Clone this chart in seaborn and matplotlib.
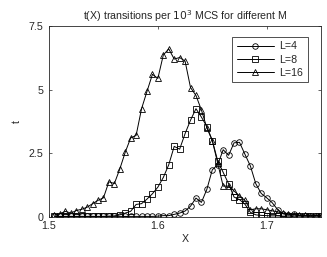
import numpy as np
import pandas as pd
import matplotlib
matplotlib.use('Agg')
import matplotlib.pyplot as plt
import seaborn as sns

# X grid (step 0.005)
x_vals = [round(1.505 + 0.005 * i, 3) for i in range(50)]

t_L4 = [0.02, 0.02, 0.02, 0.02, 0.02, 0.02, 0.02, 0.02, 0.02, 0.02,
        0.02, 0.02, 0.02, 0.02, 0.02, 0.02, 0.02, 0.02, 0.02, 0.03,
        0.05, 0.05, 0.10, 0.15, 0.23, 0.42, 0.74, 0.57, 1.08, 1.85,
        2.05, 2.64, 2.42, 2.91, 2.93, 2.46, 2.00, 1.30, 0.92, 0.75,
        0.56, 0.29, 0.12, 0.07, 0.10, 0.05, 0.04, 0.03, 0.05, 0.05]

t_L8 = [0.02, 0.02, 0.02, 0.02, 0.02, 0.02, 0.02, 0.02, 0.02, 0.02,
        0.03, 0.04, 0.08, 0.15, 0.22, 0.49, 0.52, 0.70, 0.91, 1.17,
        1.55, 2.05, 2.77, 2.66, 3.27, 3.80, 4.25, 3.92, 3.55, 3.00,
        2.20, 1.75, 1.30, 0.78, 0.68, 0.50, 0.18, 0.08, 0.06, 0.05,
        0.04, 0.04, 0.03, 0.03, 0.03, 0.03, 0.03, 0.03, 0.03, 0.03]

t_L16 = [0.07, 0.12, 0.22, 0.15, 0.25, 0.30, 0.38, 0.52, 0.65, 0.75,
         1.38, 1.31, 1.88, 2.54, 3.10, 3.20, 4.25, 4.93, 5.60, 5.44,
         6.36, 6.60, 6.20, 6.26, 6.12, 5.08, 4.77, 4.20, 3.50, 3.00,
         2.10, 1.21, 1.21, 1.02, 0.82, 0.65, 0.28, 0.32, 0.32, 0.28,
         0.24, 0.20, 0.15, 0.10, 0.08, 0.07, 0.06, 0.05, 0.05, 0.05]

labels = ['L=4', 'L=8', 'L=16']
markers = ['o', 's', '^']

sns.set_style('ticks')
plt.rcParams['font.family'] = ['Liberation Sans', 'DejaVu Sans']

fig = plt.figure(figsize=(3.27, 2.57), dpi=100)
ax = fig.add_axes([0.150, 0.156, 0.832, 0.743])

for series, lab, mk in zip([t_L4, t_L8, t_L16], labels, markers):
    df = pd.DataFrame({'X': x_vals, 't': series})
    sns.lineplot(data=df, x='X', y='t', ax=ax, color='k', lw=0.7,
                 marker=mk, markersize=4, mfc='none', mec='k', mew=0.6,
                 label=lab)

ax.set_xlim(1.5, 1.75)
ax.set_ylim(0, 7.5)
ax.set_xticks([1.5, 1.6, 1.7])
ax.set_xticklabels(['1.5', '1.6', '1.7'])
ax.set_yticks([0, 2.5, 5, 7.5])
ax.set_yticklabels(['0', '2.5', '5', '7.5'])
ax.tick_params(direction='in', length=2.5, width=0.5, labelsize=7.7,
               top=True, right=True)
ax.tick_params(axis='x', pad=3)
ax.tick_params(axis='y', pad=4)
for s in ax.spines.values():
    s.set_linewidth(0.6)
ax.set_xlabel('X', fontsize=7.7, labelpad=2)
ax.set_ylabel('t', fontsize=7.7, labelpad=5)
ax.set_title('t(X) transitions per $10^3$ MCS for different M', fontsize=7.7, pad=4)

leg = ax.legend(loc='upper right', fontsize=7.7, frameon=True, fancybox=False,
                edgecolor='k', handlelength=3.5, borderpad=0.4,
                labelspacing=0.3, handletextpad=0.5,
                bbox_to_anchor=(0.97, 0.97))
leg.get_frame().set_linewidth(0.6)

fig.savefig('out.png', dpi=100)
